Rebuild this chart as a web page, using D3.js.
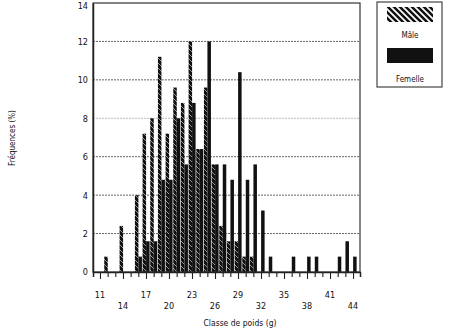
<!DOCTYPE html>
<html><head><meta charset="utf-8">
<script src="https://cdn.jsdelivr.net/npm/d3@7"></script>
<style>
html,body{margin:0;padding:0;background:#fff;}
svg{display:block;}
text{font-family:"Liberation Sans Narrow","DejaVu Sans Condensed","Liberation Sans",sans-serif;fill:#111;}
</style></head>
<body>
<script>
const classes = [11,12,13,14,15,16,17,18,19,20,21,22,23,24,25,26,27,28,29,30,31,32,33,34,35,36,37,38,39,40,41,42,43,44];
const male    = [0,0.8,0,2.4,0,4.0,7.2,8.0,11.2,7.2,9.6,8.8,12.0,6.4,9.6,5.6,2.4,1.6,1.6,0.8,0.8,0,0,0,0,0,0,0,0,0,0,0,0,0];
const female  = [0,0,0,0,0,0.8,1.6,1.6,4.8,4.8,8.0,5.6,8.8,6.4,12.0,5.6,5.6,4.8,10.4,4.8,5.6,3.2,0.8,0,0,0.8,0,0.8,0.8,0,0,0.8,1.6,0.8];
const seriesNames = ["Mâle","Femelle"];
const xLabelsRow1 = [11,17,23,29,35,41];
const xLabelsRow2 = [14,20,26,32,38,44];
const yTicks = [0,2,4,6,8,10,12,14];

const W = 450, H = 334;
const svg = d3.select("body").append("svg").attr("width",W).attr("height",H);
const defs = svg.append("defs");
const pat = defs.append("pattern").attr("id","hatch").attr("patternUnits","userSpaceOnUse")
  .attr("width",5).attr("height",5);
pat.append("rect").attr("width",5).attr("height",5).attr("fill","#111");
pat.append("path").attr("d","M0,0 L5,5 M-2.5,2.5 L2.5,7.5 M2.5,-2.5 L7.5,2.5").attr("stroke","#eee").attr("stroke-width",0.6);
const pat2 = defs.append("pattern").attr("id","hatchL").attr("patternUnits","userSpaceOnUse")
  .attr("width",6).attr("height",6);
pat2.append("rect").attr("width",6).attr("height",6).attr("fill","#111");
pat2.append("path").attr("d","M0,0 L6,6 M-3,3 L3,9 M3,-3 L9,3")
  .attr("stroke","#fff").attr("stroke-width",1.7);

const x0 = 93, x1 = 360, yTop = 3, yBot = 272;
const x = d3.scaleLinear().domain([10.09,44.91]).range([x0,x1]);
const y = d3.scaleLinear().domain([0,14]).range([yBot,yTop]);
const sub = d3.scaleBand().domain(seriesNames).range([-3.4,3.6]).paddingInner(0);

// grid
svg.append("g").selectAll("line").data(yTicks.filter(t=>t>0 && t<14)).join("line")
  .attr("x1",x0).attr("x2",x1).attr("y1",d=>y(d)).attr("y2",d=>y(d))
  .attr("stroke",d=>d===8?"#bbb":"#666").attr("stroke-width",1).attr("stroke-dasharray","2,1");

// bars
const rows = classes.map((c,i)=>({c, vals:[male[i],female[i]]}));
const g = svg.append("g");
rows.forEach(r=>{
  seriesNames.forEach((s,k)=>{
    const v = r.vals[k];
    if(!v) return;
    g.append("rect")
      .attr("x", x(r.c)+sub(s))
      .attr("width", sub.bandwidth())
      .attr("y", y(v))
      .attr("height", y(0)-y(v))
      .attr("fill", k===0 ? "url(#hatch)" : "#111");
  });
});

// frame
svg.append("rect").attr("x",x0).attr("y",yTop).attr("width",x1-x0).attr("height",yBot-yTop)
  .attr("fill","none").attr("stroke","#333").attr("stroke-width",1.2);

// y axis
const yAxis = d3.axisLeft(y).tickValues(yTicks).tickSize(0).tickPadding(5);
const ya = svg.append("g").attr("transform",`translate(${x0},0)`).call(yAxis);
ya.select(".domain").attr("stroke","#222").attr("stroke-width",1.5);
ya.selectAll("text").attr("font-size",9).style("font-family",'"Liberation Sans Narrow","DejaVu Sans Condensed",sans-serif')
  .attr("dy",d=>d===14?"0.6em":"0.32em");

// x axis
const majors = xLabelsRow1.concat(xLabelsRow2);
const xAxis = d3.axisBottom(x).tickValues(classes).tickSize(5).tickFormat("");
const xa = svg.append("g").attr("transform",`translate(0,${yBot})`).call(xAxis);
xa.select(".domain").attr("stroke","#222").attr("stroke-width",1.5);
xa.selectAll(".tick line").attr("stroke","#222").attr("stroke-width",1.1)
  .attr("y2",d=>majors.includes(d)?7:5);

svg.append("g").selectAll("text").data(xLabelsRow1).join("text")
  .attr("x",d=>x(d)).attr("y",298).attr("text-anchor","middle").attr("font-size",9).text(d=>d);
svg.append("g").selectAll("text").data(xLabelsRow2).join("text")
  .attr("x",d=>x(d)).attr("y",309).attr("text-anchor","middle").attr("font-size",9).text(d=>d);

svg.append("text").attr("x",240).attr("y",326).attr("text-anchor","middle").attr("font-size",8.5)
  .text("Classe de poids (g)");

svg.append("text").attr("transform","translate(15,138) rotate(-90)").attr("text-anchor","middle")
  .attr("font-size",8).text("Fréquences (%)");

// legend
const lg = svg.append("g");
lg.append("rect").attr("x",377).attr("y",2).attr("width",65).attr("height",85)
  .attr("fill","#fff").attr("stroke","#444").attr("stroke-width",1.2);
lg.append("rect").attr("x",387).attr("y",7).attr("width",46).attr("height",15)
  .attr("fill","url(#hatchL)");
lg.append("text").attr("x",410).attr("y",38).attr("text-anchor","middle").attr("font-size",8).text(seriesNames[0]);
lg.append("rect").attr("x",387).attr("y",48).attr("width",46).attr("height",15).attr("fill","#111");
lg.append("text").attr("x",410).attr("y",82).attr("text-anchor","middle").attr("font-size",8).text(seriesNames[1]);
</script>
</body></html>
